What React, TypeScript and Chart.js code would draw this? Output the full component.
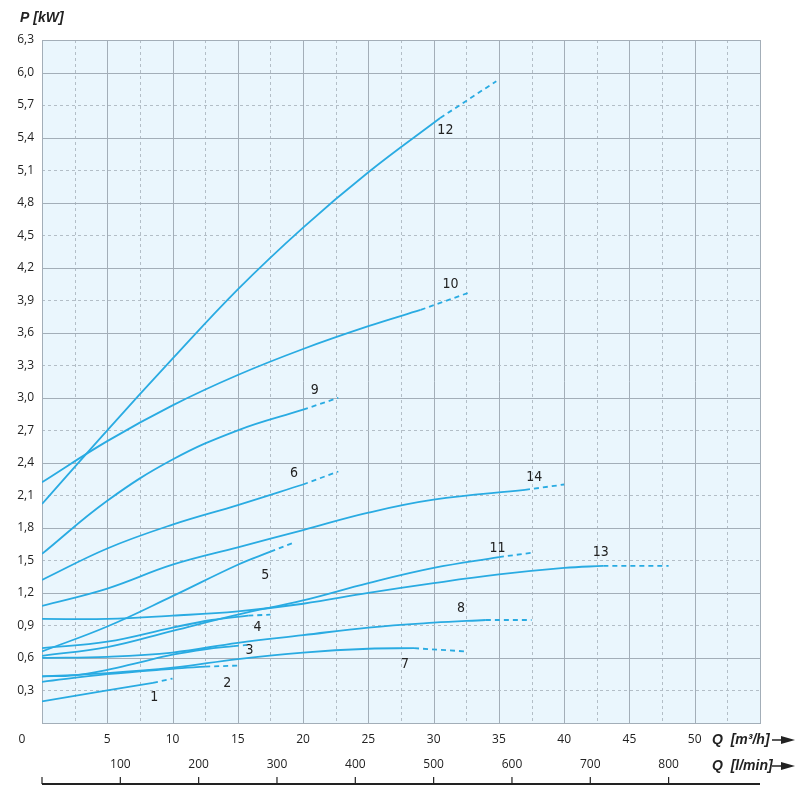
import React, { useEffect, useRef } from "react";
import { Chart, registerables } from "chart.js";
Chart.register(...registerables);

const yTicks = [0.3, 0.6, 0.9, 1.2, 1.5, 1.8, 2.1, 2.4, 2.7, 3.0, 3.3, 3.6, 3.9, 4.2, 4.5, 4.8, 5.1, 5.4, 5.7, 6.0, 6.3];
const xTicks = [5, 10, 15, 20, 25, 30, 35, 40, 45, 50];
const lminTicks = [100, 200, 300, 400, 500, 600, 700, 800];

// solid part [Q, P], then dashed extension
const c1 = [[0, 0.2], [5, 0.3], [8.5, 0.37]];
const c1d = [[8.5, 0.37], [10, 0.41]];
const c2 = [[0, 0.38], [5, 0.45], [10, 0.5], [12.5, 0.52]];
const c2d = [[12.5, 0.52], [15, 0.53]];
const c3 = [[0, 0.43], [2.5, 0.44], [5, 0.49], [7.5, 0.56], [10, 0.63], [12.5, 0.68], [14.7, 0.71]];
const c3d = [[14.7, 0.71], [15.7, 0.72]];
const c4 = [[0, 0.69], [5, 0.75], [10, 0.88], [13, 0.95], [15.8, 0.99]];
const c4d = [[15.8, 0.99], [17.5, 1.0]];
const c5 = [[0, 0.66], [5, 0.89], [10, 1.17], [15, 1.46], [17.5, 1.58]];
const c5d = [[17.5, 1.58], [19.4, 1.67]];
const c6 = [[0, 1.32], [5, 1.61], [10, 1.83], [15, 2.01], [20, 2.2]];
const c6d = [[20, 2.2], [22.7, 2.32]];
const c7 = [[0, 0.43], [5, 0.46], [10, 0.51], [15, 0.59], [20, 0.65], [25, 0.685], [28.5, 0.69]];
const c7d = [[28.5, 0.69], [32.5, 0.66]];
const c8 = [[0, 0.6], [5, 0.61], [10, 0.65], [15, 0.74], [20, 0.81], [25, 0.88], [30, 0.925], [34, 0.95]];
const c8d = [[34, 0.95], [37.5, 0.95]];
const c9 = [[0, 1.56], [5, 2.05], [10, 2.43], [15, 2.7], [20, 2.89]];
const c9d = [[20, 2.89], [22.7, 3.0]];
const c10 = [[0, 2.22], [5, 2.6], [10, 2.93], [15, 3.21], [20, 3.45], [25, 3.66], [29, 3.81]];
const c10d = [[29, 3.81], [32.7, 3.97]];
const c11 = [[0, 0.62], [5, 0.7], [10, 0.85], [15, 1.0], [20, 1.13], [25, 1.29], [30, 1.43], [35, 1.53]];
const c11d = [[35, 1.53], [37.5, 1.57]];
const c12 = [[0, 2.02], [5, 2.7], [10, 3.36], [15, 4.0], [20, 4.57], [25, 5.08], [30.5, 5.58]];
const c12d = [[30.5, 5.58], [34.8, 5.92]];
const c13 = [[0, 0.96], [5, 0.96], [10, 0.99], [15, 1.03], [20, 1.1], [25, 1.2], [30, 1.29], [35, 1.37], [40, 1.43], [43, 1.45]];
const c13d = [[43, 1.45], [48, 1.45]];
const c14 = [[0, 1.08], [5, 1.24], [10, 1.46], [15, 1.62], [20, 1.78], [25, 1.94], [30, 2.06], [37, 2.15]];
const c14d = [[37, 2.15], [40, 2.2]];

const curves = [c1, c2, c3, c4, c5, c6, c7, c8, c9, c10, c11, c12, c13, c14];
const dashes = [c1d, c2d, c3d, c4d, c5d, c6d, c7d, c8d, c9d, c10d, c11d, c12d, c13d, c14d];
const labelNames = ["1", "2", "3", "4", "5", "6", "7", "8", "9", "10", "11", "12", "13", "14"];
const labelQ = [8.6, 14.2, 15.9, 16.5, 17.1, 19.3, 27.8, 32.1, 20.9, 31.3, 34.9, 30.9, 42.8, 37.7];
const labelP = [0.24, 0.37, 0.67, 0.88, 1.36, 2.3, 0.54, 1.06, 3.07, 4.05, 1.61, 5.47, 1.57, 2.27];

const BLUE = "#29abe2";

export default function App() {
  const ref = useRef<HTMLCanvasElement>(null);
  useEffect(() => {
    const datasets: any[] = [];
    curves.forEach((c) =>
      datasets.push({ data: c.map(([x, y]) => ({ x, y })), borderColor: BLUE, borderWidth: 1.8, pointRadius: 0, tension: 0.4, fill: false })
    );
    dashes.forEach((c) =>
      datasets.push({ data: c.map(([x, y]) => ({ x, y })), borderColor: BLUE, borderWidth: 1.8, borderDash: [5, 4], pointRadius: 0, tension: 0, fill: false })
    );
    const plugin = {
      id: "deco",
      beforeDatasetsDraw(chart: any) {
        const { ctx, chartArea: a, scales } = chart;
        const xs = scales.x, ys = scales.y;
        ctx.save();
        ctx.fillStyle = "#eaf6fd";
        ctx.fillRect(a.left, a.top, a.right - a.left, a.bottom - a.top);
        ctx.lineWidth = 1;
        for (let q = 2.5; q < 55; q += 2.5) {
          const px = Math.round(xs.getPixelForValue(q)) + 0.5;
          const solid = Math.abs(q % 5) < 0.01;
          ctx.strokeStyle = solid ? "#a3aeb8" : "#b3bec7";
          ctx.setLineDash(solid ? [] : [3, 3]);
          ctx.beginPath(); ctx.moveTo(px, a.top); ctx.lineTo(px, a.bottom); ctx.stroke();
        }
        yTicks.forEach((v, i) => {
          const py = Math.round(ys.getPixelForValue(v)) + 0.5;
          const solid = i % 2 === 1;
          ctx.strokeStyle = solid ? "#a3aeb8" : "#b3bec7";
          ctx.setLineDash(solid ? [] : [3, 3]);
          ctx.beginPath(); ctx.moveTo(a.left, py); ctx.lineTo(a.right, py); ctx.stroke();
        });
        ctx.setLineDash([]);
        ctx.strokeStyle = "#a3aeb8";
        ctx.strokeRect(a.left + 0.5, a.top + 0.5, a.right - a.left, a.bottom - a.top);
        ctx.restore();
      },
      afterDatasetsDraw(chart: any) {
        const { ctx, chartArea: a, scales } = chart;
        const xs = scales.x, ys = scales.y;
        ctx.save();
        ctx.fillStyle = "#222";
        ctx.font = "12px 'Open Sans'";
        ctx.textAlign = "right"; ctx.textBaseline = "middle";
        yTicks.forEach((v) => ctx.fillText(v.toFixed(1).replace(".", ","), 34, ys.getPixelForValue(v)));
        ctx.textAlign = "center";
        ctx.fillText("0", 22, 740);
        xTicks.forEach((v) => ctx.fillText(String(v), xs.getPixelForValue(v), 740));
        lminTicks.forEach((v) => ctx.fillText(String(v), xs.getPixelForValue(v * 0.06), 765));
        ctx.strokeStyle = "#222"; ctx.lineWidth = 2;
        ctx.beginPath(); ctx.moveTo(a.left, 784); ctx.lineTo(a.right, 784); ctx.stroke();
        ctx.lineWidth = 1.2;
        [0, ...lminTicks].forEach((v) => {
          const px = xs.getPixelForValue(v * 0.06);
          ctx.beginPath(); ctx.moveTo(px, 784); ctx.lineTo(px, 777); ctx.stroke();
        });
        ctx.font = "14px 'Liberation Sans Narrow', 'DejaVu Sans Condensed', sans-serif";
        labelNames.forEach((n, i) => ctx.fillText(n, xs.getPixelForValue(labelQ[i]), ys.getPixelForValue(labelP[i])));
        ctx.font = "italic bold 14px 'Liberation Sans Narrow', sans-serif";
        ctx.textAlign = "left";
        ctx.fillText("P [kW]", 20, 18);
        ctx.fillText("Q  [m\u00b3/h]", 712, 740);
        ctx.fillText("Q  [l/min]", 712, 766);
        [740, 766].forEach((y) => {
          ctx.lineWidth = 1.5;
          ctx.beginPath(); ctx.moveTo(772, y); ctx.lineTo(784, y); ctx.stroke();
          ctx.beginPath(); ctx.moveTo(795, y); ctx.lineTo(781, y - 4); ctx.lineTo(781, y + 4); ctx.closePath(); ctx.fill();
        });
        ctx.restore();
      },
    };
    const chart = new Chart(ref.current!, {
      type: "line",
      data: { datasets },
      options: {
        animation: false,
        responsive: false,
        layout: { padding: { left: 42, top: 40, right: 40, bottom: 77 } },
        plugins: { legend: { display: false }, tooltip: { enabled: false } },
        scales: {
          x: { type: "linear", min: 0, max: 55, display: false },
          y: { type: "linear", min: 0, max: 6.3, display: false },
        },
      },
      plugins: [plugin],
    });
    return () => chart.destroy();
  }, []);
  return (
    <div style={{ position: "absolute", left: 0, top: 0, width: 800, height: 800, background: "#fff" }}>
      <canvas ref={ref} width={800} height={800} style={{ width: 800, height: 800 }} />
    </div>
  );
}
